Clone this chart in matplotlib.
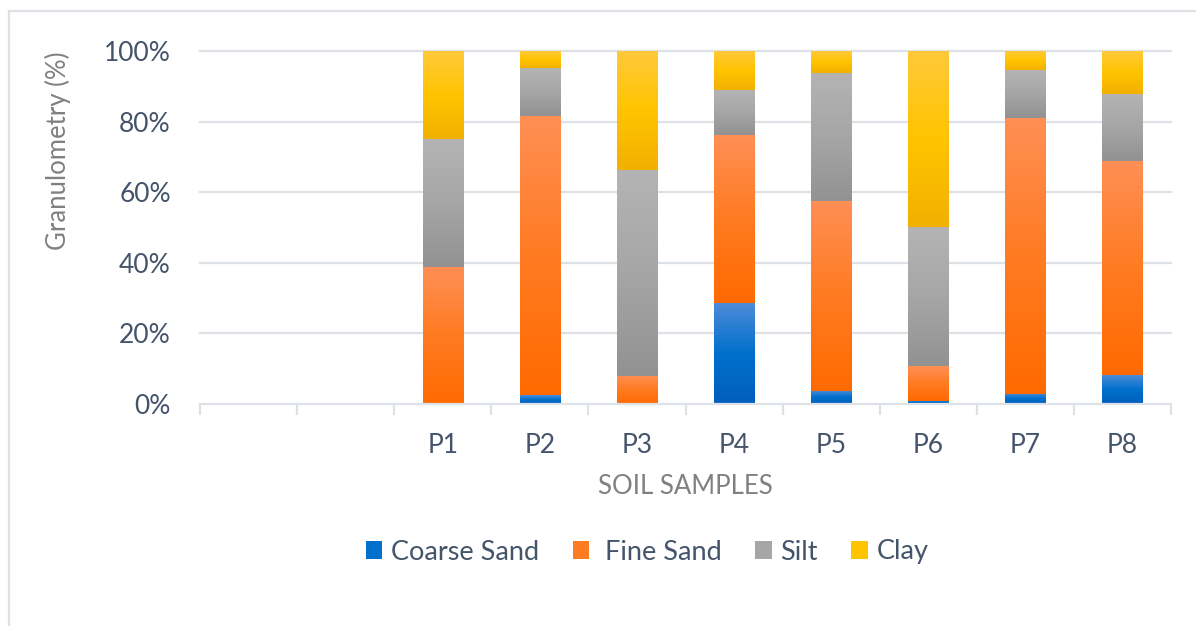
import matplotlib
matplotlib.use("Agg")
import matplotlib.pyplot as plt
import numpy as np
from matplotlib.colors import LinearSegmentedColormap
from matplotlib.patches import Patch, Rectangle

plt.rcParams['font.family'] = ['Lato', 'DejaVu Sans']

# Granulometry fractions (%) per soil sample; two leading empty slots
categories = ['', '', 'P1', 'P2', 'P3', 'P4', 'P5', 'P6', 'P7', 'P8']
coarse_sand = [0, 0, 0.0, 2.5, 0.0, 28.6, 3.7, 0.9, 2.9, 8.2]
fine_sand = [0, 0, 38.8, 79.1, 8.0, 47.6, 53.8, 9.9, 78.1, 60.6]
silt = [0, 0, 36.3, 13.7, 58.4, 12.8, 36.3, 39.3, 13.7, 19.1]
clay = [0, 0, 24.9, 4.7, 33.6, 11.0, 6.2, 49.9, 5.3, 12.1]

series = [
    ('Coarse Sand', coarse_sand, ['#4d8bd8', '#0070cc', '#005ebd']),
    (' Fine Sand', fine_sand, ['#ff8f55', '#ff7b22', '#ff6a00']),
    ('Silt', silt, ['#b4b4b4', '#a6a6a6', '#929292']),
    ('Clay', clay, ['#ffc93a', '#ffc400', '#f2b000']),
]

W, H = 1196, 626
fig = plt.figure(figsize=(W / 100, H / 100), dpi=100)
ax = fig.add_axes([200 / W, 1 - 404 / H, 971 / W, 353 / H])

grid_col = '#dde2e8'
text_col = '#44546a'
x = np.arange(len(categories))
bar_w = 0.415
grad = np.linspace(0, 1, 256).reshape(-1, 1)

bottom = np.zeros(len(categories))
handles = []
for name, vals, stops in series:
    vals = np.array(vals, dtype=float) / 100
    cmap = LinearSegmentedColormap.from_list(name, stops)
    for xi, b, v in zip(x, bottom, vals):
        if v <= 0:
            continue
        # vertical gradient, light at top, darker at bottom of each segment
        ax.imshow(grad, cmap=cmap, aspect='auto', origin='upper',
                  extent=(xi - bar_w / 2, xi + bar_w / 2, b, b + v),
                  interpolation='bilinear', zorder=3)
    bottom += vals
    handles.append(Patch(facecolor=stops[1], edgecolor='none', label=name))

ax.set_xlim(-0.5, len(categories) - 0.5)
ax.set_ylim(0, 1)

for s in ax.spines.values():
    s.set_visible(False)

ax.set_yticks([0, 0.2, 0.4, 0.6, 0.8, 1.0])
ax.set_yticklabels(['0%', '20%', '40%', '60%', '80%', '100%'])
ax.tick_params(axis='y', length=0, pad=21, labelsize=19, labelcolor=text_col)
for yv in [0.2, 0.4, 0.6, 0.8, 1.0]:
    ax.axhline(yv, color=grid_col, lw=1.6, zorder=1, clip_on=False)
ax.axhline(0, color=grid_col, lw=1.6, zorder=4, clip_on=False)

ax.set_xticks(x)
ax.set_xticklabels(categories)
ax.set_xticks(np.arange(-0.5, len(categories)), minor=True)
ax.tick_params(axis='x', which='major', length=0, pad=21, labelsize=19,
               labelcolor=text_col)
ax.tick_params(axis='x', which='minor', length=8, width=1.6, color=grid_col,
               direction='out')

fig.text(58 / W, 1 - 151 / H, 'Granulometry (%)', rotation=90, ha='center',
         va='center', fontsize=18.5, color='#808080')
fig.text(685 / W, 1 - 486 / H, 'SOIL SAMPLES', ha='center', va='center',
         fontsize=18.5, color='#808080')

fig.legend(handles=handles, loc='center', bbox_to_anchor=(647 / W, 1 - 552 / H),
           ncol=4, frameon=False, fontsize=19.5, labelcolor=text_col,
           handlelength=0.62, handleheight=0.62, handletextpad=0.3,
           columnspacing=1.25)

# light border around the chart area
fig.add_artist(Rectangle((9 / W, -0.1), 1.2, 1.1 - 11 / H, transform=fig.transFigure,
                         fill=False, edgecolor=grid_col, lw=1.6, clip_on=False))

fig.savefig('out.png', dpi=100)
